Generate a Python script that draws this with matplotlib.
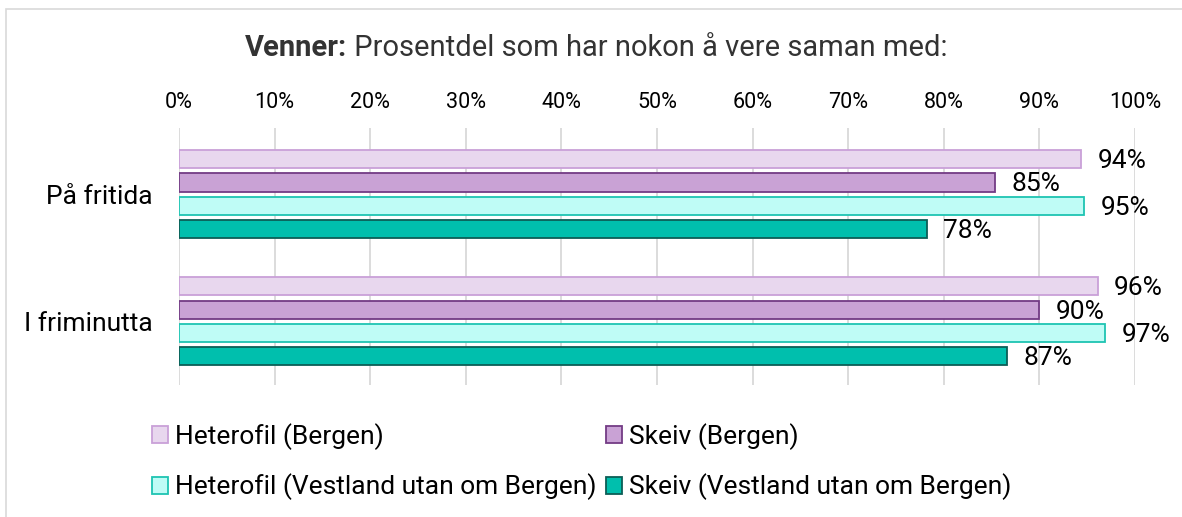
import numpy as np
import matplotlib.pyplot as plt
from matplotlib.patches import Rectangle

plt.rcParams['font.family'] = ['Roboto', 'DejaVu Sans']

# Data
categories = ['På fritida', 'I friminutta']
series = ['Heterofil (Bergen)', 'Skeiv (Bergen)',
          'Heterofil (Vestland utan om Bergen)', 'Skeiv (Vestland utan om Bergen)']
values = [
    [94.4, 96.1],   # Heterofil (Bergen)
    [85.4, 90.0],   # Skeiv (Bergen)
    [94.7, 96.9],   # Heterofil (Vestland)
    [78.2, 86.6],   # Skeiv (Vestland)
]
labels = [
    ['94%', '96%'],
    ['85%', '90%'],
    ['95%', '97%'],
    ['78%', '87%'],
]
fills = ['#E8D7EE', '#C9A2D5', '#BFFCF6', '#00BFAD']
edges = ['#C9A0D8', '#733B85', '#1EC4B2', '#0C5E56']

fig = plt.figure(figsize=(11.82, 5.17), dpi=100)
ax = fig.add_axes([179 / 1182, 1 - 385 / 517, (1135 - 179) / 1182, 257 / 517])

# light frame around the chart
fig.patches.append(Rectangle((6 / 1182, -0.1), 1.2, 1 - 9 / 517 + 0.1,
                             transform=fig.transFigure, fill=False,
                             edgecolor='#d9d9d9', linewidth=1.2))

y = np.arange(len(categories))
pitch = 0.1835
h = 0.142
bars = []
for i, s in enumerate(series):
    off = (i - 1.5) * pitch
    b = ax.barh(y + off, values[i], height=h, color=fills[i], edgecolor=edges[i],
                linewidth=1.3, label=s, zorder=3)
    bars.append(b)
    for j in range(len(categories)):
        ax.text(values[i][j] + 1.7, y[j] + off + 0.015, labels[i][j], va='center',
                ha='left', fontsize=19, color='#000000')

ax.set_xlim(0, 100)
ax.set_ylim(1.5, -0.52)
ax.set_xticks(np.arange(0, 101, 10))
ax.set_xticklabels([f'{v}%' for v in range(0, 101, 10)])
ax.xaxis.tick_top()
ax.tick_params(axis='x', length=0, pad=11, labelsize=15.5)
ax.set_yticks(y)
ax.set_yticklabels(categories)
ax.tick_params(axis='y', length=0, pad=19, labelsize=19)
ax.grid(axis='x', color='#d9d9d9', linewidth=1.3, zorder=0)
for sp in ax.spines.values():
    sp.set_visible(False)

# title: bold part + regular part
t1 = fig.text(245 / 1182, 1 - 48 / 517, 'Venner:', fontsize=21,
              fontweight='bold', color='#333333', va='center', ha='left')
ax.annotate(' Prosentdel som har nokon å vere saman med:', xy=(1, 0.5),
            xycoords=t1, va='center', ha='left', fontsize=21, color='#333333')

# legend rows: H(B), S(B) / H(V), S(V) -> column-first order
order = [0, 2, 1, 3]
fig.legend([bars[k] for k in order], [series[k] for k in order],
           loc='upper left', bbox_to_anchor=(152 / 1182, 1 - 423 / 517),
           ncol=2, frameon=False, fontsize=19, handlelength=0.62,
           handleheight=0.62, handletextpad=0.25, columnspacing=0.35,
           labelspacing=0.9, borderaxespad=0, borderpad=0)

fig.savefig('out.png', dpi=100)
